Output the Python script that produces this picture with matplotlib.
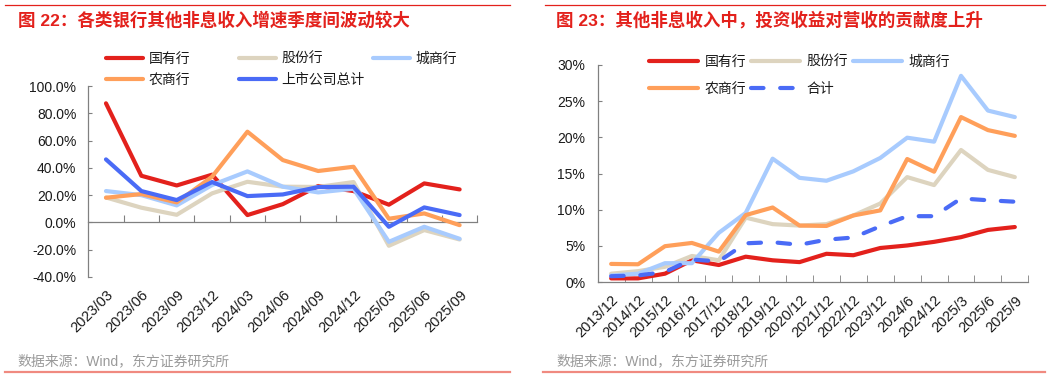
import numpy as np
import matplotlib
matplotlib.use('Agg')
import matplotlib.pyplot as plt
from matplotlib.lines import Line2D
from matplotlib.ticker import FuncFormatter

plt.rcParams['font.family'] = ['Liberation Sans', 'Noto Sans CJK SC', 'DejaVu Sans']

# ---------------- data: left chart (growth, %) ----------------
left_dates = ['2023/03', '2023/06', '2023/09', '2023/12', '2024/03', '2024/06',
              '2024/09', '2024/12', '2025/03', '2025/06', '2025/09']
left_names = ['国有行', '股份行', '城商行', '农商行', '上市公司总计']
left_state = [87.3, 34.2, 27.1, 35.0, 5.4, 13.4, 26.7, 23.0, 13.0, 28.6, 24.2]
left_joint = [18.3, 10.8, 5.6, 21.3, 29.8, 26.2, 26.0, 29.6, -17.1, -5.6, -12.5]
left_city = [23.0, 20.0, 12.5, 27.4, 37.4, 26.2, 22.0, 24.7, -14.2, -3.2, -12.0]
left_rural = [18.1, 20.8, 14.7, 33.5, 66.5, 45.7, 37.7, 40.8, 2.7, 6.6, -2.0]
left_total = [46.2, 23.0, 16.4, 29.6, 19.3, 20.5, 25.9, 26.2, -3.2, 11.0, 5.4]

# ---------------- data: right chart (share of revenue, %) ----------------
right_dates = ['2013/12', '2014/12', '2015/12', '2016/12', '2017/12', '2018/12',
               '2019/12', '2020/12', '2021/12', '2022/12', '2023/12', '2024/6',
               '2024/12', '2025/3', '2025/6', '2025/9']
right_names = ['国有行', '股份行', '城商行', '农商行', '合计']
right_state = [0.5, 0.5, 1.15, 3.0, 2.35, 3.5, 3.0, 2.75, 3.9, 3.7, 4.7, 5.05, 5.55, 6.2, 7.2, 7.6]
right_joint = [1.15, 1.5, 2.1, 3.6, 3.0, 8.9, 8.0, 7.8, 8.0, 9.2, 10.85, 14.5, 13.4, 18.25, 15.5, 14.5]
right_city = [0.9, 1.15, 2.6, 2.6, 6.8, 9.55, 17.05, 14.4, 14.0, 15.3, 17.15, 19.95, 19.4, 28.5, 23.7, 22.8]
right_rural = [2.5, 2.45, 4.95, 5.4, 4.2, 9.25, 10.3, 7.8, 7.75, 9.2, 9.9, 17.0, 15.25, 22.8, 21.0, 20.2]
right_total = [0.8, 0.9, 1.4, 3.1, 2.85, 5.35, 5.5, 5.15, 5.85, 6.15, 7.7, 9.1, 9.1, 11.55, 11.3, 11.1]

RED = '#E3211C'
BEIGE = '#DDD4BF'
LBLUE = '#A8CBFE'
ORANGE = '#FF9F5A'
BLUE = '#4A6BF6'
AXC = '#808080'
TXT = '#1a1a1a'

W, H = 1061, 378
fig = plt.figure(figsize=(W / 100, H / 100), dpi=100)


def fx(px):
    return px / W


def fy(py):
    return 1 - py / H


def add_axes(l, t, r, b):
    return fig.add_axes([fx(l), fy(b), fx(r) - fx(l), fy(t) - fy(b)])


LW = 3.0

# ======================= LEFT CHART =======================
ax1 = add_axes(88.3, 86, 477.3, 277)
x1 = np.arange(len(left_dates))
series_left = [left_state, left_joint, left_city, left_rural, left_total]
colors_left = [RED, BEIGE, LBLUE, ORANGE, BLUE]
lines_left = []
for vals, c, name in zip(series_left, colors_left, left_names):
    ln, = ax1.plot(x1, vals, color=c, lw=LW, solid_capstyle='round',
                   solid_joinstyle='round', label=name)
    lines_left.append(ln)
ax1.set_xlim(-0.5, len(left_dates) - 0.5)
ax1.set_ylim(-40, 100)
ax1.set_yticks(np.arange(-40, 101, 20))
ax1.yaxis.set_major_formatter(FuncFormatter(lambda v, p: f'{v:.1f}%'))
for s in ['top', 'right', 'bottom']:
    ax1.spines[s].set_visible(False)
ax1.spines['left'].set_color(AXC)
ax1.spines['left'].set_linewidth(0.9)
ax1.tick_params(axis='y', direction='in', length=3, color=AXC, pad=8.5,
                labelsize=10, labelcolor=TXT)
ax1.set_xticks(x1)
ax1.set_xticklabels(left_dates, rotation=45, ha='right', rotation_mode='anchor')
ax1.tick_params(axis='x', length=0, pad=8, labelsize=10.5, labelcolor=TXT)

sec1 = ax1.secondary_xaxis(40 / 140)
sec1.set_xticks(np.arange(0.5, len(left_dates), 1.0))
sec1.tick_params(axis='x', direction='in', length=5, color=AXC, labelbottom=False,
                 labeltop=False)
for s in sec1.spines.values():
    s.set_color(AXC)
    s.set_linewidth(0.9)

# legends, one per column
leg_kw = dict(frameon=False, fontsize=10, handlelength=2.66, handletextpad=0.4,
              labelspacing=0.5, borderpad=0, borderaxespad=0)
cols_left = [([0, 3], 106, 69), ([1, 4], 239, 69), ([2], 373, 59)]
for idx, xpx, ypx in cols_left:
    lg = fig.legend([lines_left[i] for i in idx], [left_names[i] for i in idx],
                    loc='center left', bbox_to_anchor=(fx(xpx), fy(ypx)), **leg_kw)
    for t in lg.get_texts():
        t.set_color(TXT)

# ======================= RIGHT CHART =======================
ax2 = add_axes(597.7, 65, 1028.3, 282)
x2 = np.arange(len(right_dates))
series_right = [right_state, right_joint, right_city, right_rural]
colors_right = [RED, BEIGE, LBLUE, ORANGE]
lines_right = []
for vals, c, name in zip(series_right, colors_right, right_names[:4]):
    ln, = ax2.plot(x2, vals, color=c, lw=LW, solid_capstyle='round',
                   solid_joinstyle='round', label=name)
    lines_right.append(ln)
ln, = ax2.plot(x2, right_total, color=BLUE, lw=LW, dashes=(3, 4),
               dash_capstyle='round', dash_joinstyle='round', label=right_names[4])
lines_right.append(ln)
ax2.set_xlim(-0.5, len(right_dates) - 0.5)
ax2.set_ylim(0, 30)
ax2.set_yticks(np.arange(0, 31, 5))
ax2.yaxis.set_major_formatter(FuncFormatter(lambda v, p: f'{v:.0f}%'))
for s in ['top', 'right']:
    ax2.spines[s].set_visible(False)
for s in ['left', 'bottom']:
    ax2.spines[s].set_color(AXC)
    ax2.spines[s].set_linewidth(0.9)
ax2.tick_params(axis='y', direction='in', length=3, color=AXC, pad=9,
                labelsize=10, labelcolor=TXT)
ax2.set_xticks(x2)
ax2.set_xticklabels(right_dates, rotation=45, ha='right', rotation_mode='anchor')
ax2.tick_params(axis='x', which='major', length=0, pad=8, labelsize=10.5, labelcolor=TXT)
ax2.set_xticks(np.arange(0.5, len(right_dates), 1.0), minor=True)
ax2.tick_params(axis='x', which='minor', direction='in', length=5, color=AXC)

order = [0, 3, 1, 4, 2]
lg2 = fig.legend([lines_right[i] for i in order], [right_names[i] for i in order],
                 loc='center left', bbox_to_anchor=(fx(649), fy(75.5)), ncol=3,
                 frameon=False, fontsize=10, handlelength=3.5, handletextpad=0.5,
                 columnspacing=0.35, labelspacing=0.95, borderpad=0, borderaxespad=0)
for t in lg2.get_texts():
    t.set_color(TXT)

# ======================= DECORATION =======================
fig.add_artist(Line2D([fx(5), fx(510)], [fy(5), fy(5)], color=RED, lw=0.9))
fig.add_artist(Line2D([fx(545), fx(1045)], [fy(5), fy(5)], color=RED, lw=0.9))
fig.add_artist(Line2D([fx(5), fx(510)], [fy(372), fy(372)], color='#F08A80', lw=1.6))
fig.add_artist(Line2D([fx(543), fx(1045)], [fy(372), fy(372)], color='#F08A80', lw=1.6))

fig.text(fx(18), fy(20), '图 22：各类银行其他非息收入增速季度间波动较大', color=RED,
         fontsize=12.6, fontweight='bold', va='center', ha='left',
         family=['Liberation Sans', 'Noto Sans CJK SC'])
fig.text(fx(556.5), fy(20), '图 23：其他非息收入中，投资收益对营收的贡献度上升', color=RED,
         fontsize=12.6, fontweight='bold', va='center', ha='left',
         family=['Liberation Sans', 'Noto Sans CJK SC'])
fig.text(fx(17), fy(361), '数据来源：Wind，东方证券研究所', color='#9a9a9a',
         fontsize=10, va='center', ha='left')
fig.text(fx(556), fy(361), '数据来源：Wind，东方证券研究所', color='#9a9a9a',
         fontsize=10, va='center', ha='left')

fig.savefig('out.png', dpi=100)
